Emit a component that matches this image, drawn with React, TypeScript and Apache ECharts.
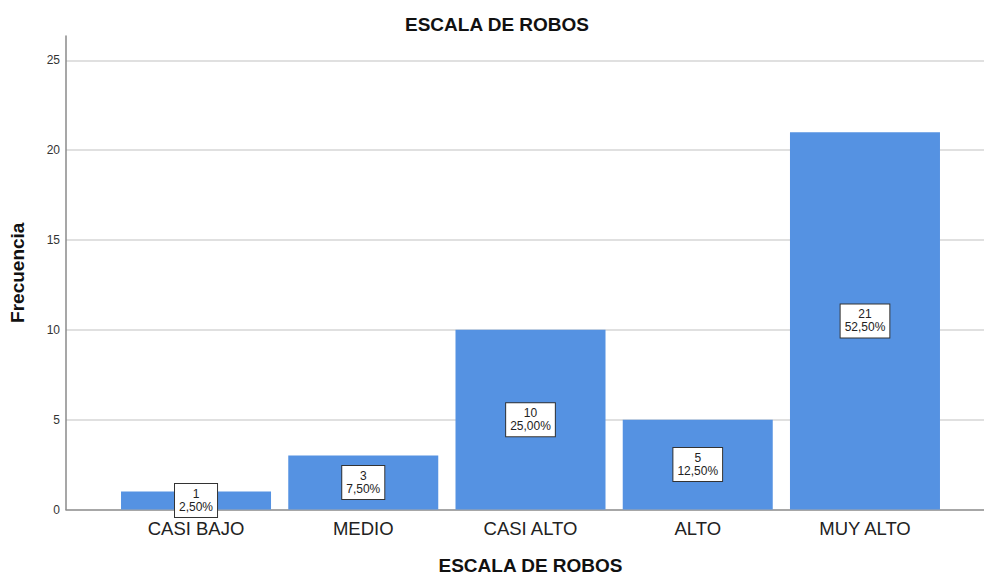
import React, { useEffect, useRef } from "react";
import * as echarts from "echarts";

const categories = ["CASI BAJO", "MEDIO", "CASI ALTO", "ALTO", "MUY ALTO"];
const frequencies = [1, 3, 10, 5, 21];
const percents = ["2,50%", "7,50%", "25,00%", "12,50%", "52,50%"];
const yTicks = [0, 5, 10, 15, 20, 25];

const FONT = "'Liberation Sans', Arial, sans-serif";

export default function App() {
  const ref = useRef<HTMLDivElement>(null);
  useEffect(() => {
    if (!ref.current) return;
    const chart = echarts.init(ref.current, undefined, { renderer: "svg", width: 984, height: 580 });
    const yMax = 26.36;
    const option: any = {
      animation: false,
      backgroundColor: "#ffffff",
      textStyle: { fontFamily: FONT },
      title: {
        text: "ESCALA DE ROBOS",
        left: 400,
        top: 10,
        textStyle: { fontSize: 19, fontWeight: "bold", color: "#111", fontFamily: FONT },
      },
      grid: [
        { left: 66, right: 0, top: 36, bottom: 70.5, containLabel: false, outerBoundsMode: "none" },
        { left: 112.4, right: 35.4, top: 36, bottom: 70.5, containLabel: false, outerBoundsMode: "none" },
      ],
      xAxis: [
        {
          type: "value",
          gridIndex: 0,
          min: 0,
          max: 1,
          axisLine: { show: true, lineStyle: { color: "#8a8a8a", width: 1.5 } },
          axisTick: { show: false },
          axisLabel: { show: false },
          splitLine: { show: false },
        },
        {
          type: "category",
          gridIndex: 1,
          data: categories,
          axisLine: { show: false },
          axisTick: { show: false },
          axisLabel: { margin: 9, fontSize: 18.5, color: "#222", fontFamily: FONT },
          name: "ESCALA DE ROBOS",
          nameLocation: "middle",
          nameGap: 46,
          nameTextStyle: { fontSize: 19, fontWeight: "bold", color: "#111", fontFamily: FONT },
        },
      ],
      yAxis: [
        {
          type: "value",
          gridIndex: 0,
          min: 0,
          max: yMax,
          interval: 5,
          axisLine: { show: true, lineStyle: { color: "#8a8a8a", width: 1.5 } },
          axisTick: { show: false },
          axisLabel: {
            showMaxLabel: false,
            margin: 6,
            fontSize: 12,
            color: "#333",
            fontFamily: FONT,
            formatter: (v: number) => (yTicks.indexOf(v) >= 0 ? String(v) : ""),
          },
          splitLine: {
            show: true,
            showMinLine: false,
            showMaxLine: false,
            lineStyle: { color: "#d6d6d6", width: 1.5 },
          },
          name: "Frecuencia",
          nameLocation: "middle",
          nameGap: 39,
          nameTextStyle: { fontSize: 19, fontWeight: "bold", color: "#111", fontFamily: FONT },
        },
        {
          type: "value",
          gridIndex: 1,
          min: 0,
          max: yMax,
          show: false,
        },
      ],
      series: [
        {
          type: "bar",
          xAxisIndex: 1,
          yAxisIndex: 1,
          data: frequencies,
          barWidth: 150,
          itemStyle: { color: "#5592e2" },
          label: {
            show: true,
            position: "inside",
            formatter: (p: any) => `${p.value}\n${percents[p.dataIndex]}`,
            fontSize: 12,
            lineHeight: 13,
            color: "#222",
            fontFamily: FONT,
            backgroundColor: "#ffffff",
            borderColor: "#333",
            borderWidth: 1,
            padding: [4, 4, 3, 4],
            align: "center",
          },
        },
      ],
    };
    chart.setOption(option);
    return () => chart.dispose();
  }, []);
  return (
    <div
      ref={ref}
      style={{ position: "fixed", left: 0, top: 0, width: 984, height: 580 }}
    />
  );
}
